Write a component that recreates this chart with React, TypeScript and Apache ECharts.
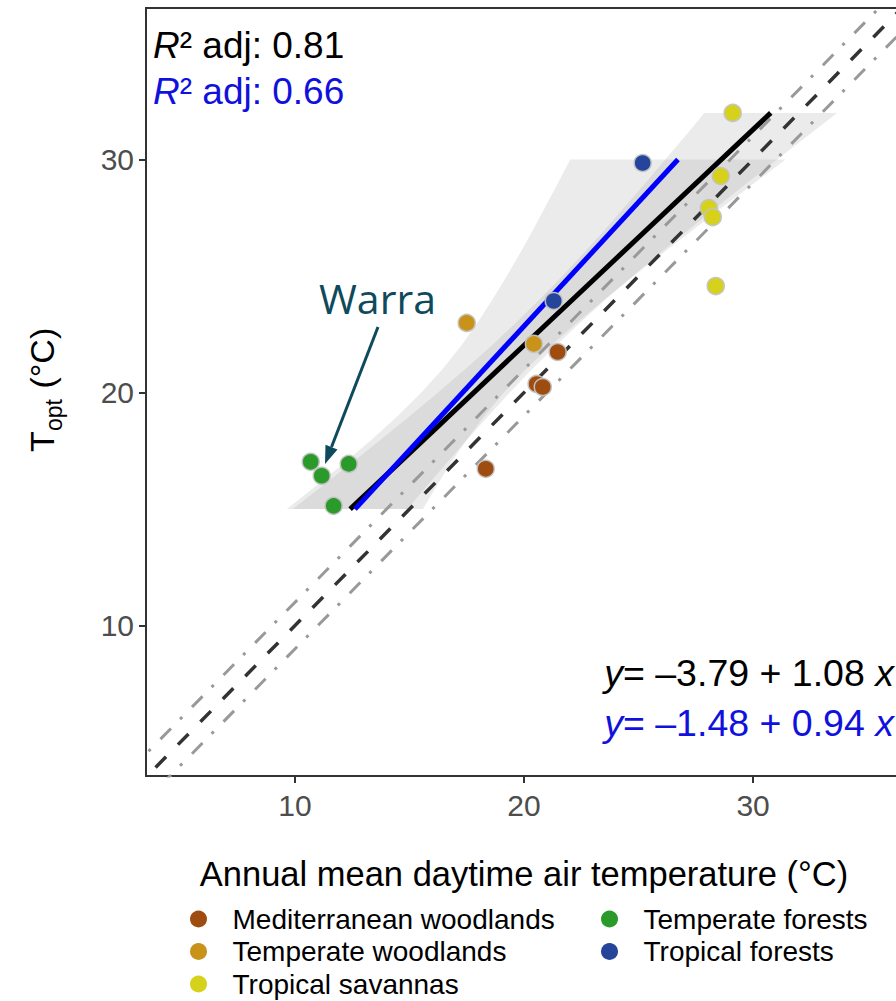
import React, { useEffect, useRef } from "react";
import * as echarts from "echarts";

const FONT = '"Liberation Sans", Arial, sans-serif';

// Biomes and colours
const biomes = [
  "Mediterranean woodlands",
  "Temperate woodlands",
  "Tropical savannas",
  "Temperate forests",
  "Tropical forests",
];
const biomeColors = ["#9e4c10", "#c9931a", "#d6d21c", "#2a9a2a", "#25459a"];

// Site values: annual mean daytime air temperature (x) and Topt (y)
const medX = [21.47, 20.55, 20.82, 18.33];
const medY = [21.74, 20.37, 20.24, 16.73];
const twX = [17.5, 20.43];
const twY = [22.99, 22.09];
const tsX = [29.11, 28.59, 28.07, 28.24, 28.37];
const tsY = [32.0, 29.29, 27.92, 27.53, 24.57];
const tfX = [10.69, 11.17, 12.35, 11.69];
const tfY = [17.03, 16.43, 16.94, 15.14];
const trX = [25.18, 21.3];
const trY = [29.85, 23.93];

// Fitted lines (all sites: black, without savannas: blue)
const fitAllY = [15, 32];
const fitAllX = [12.41, 30.77];
const fitSubY = [15, 30];
const fitSubX = [12.62, 26.72];

// Confidence ribbons: x bounds at each Topt level
const bandAllY = [15, 16, 17, 18, 19, 20, 21, 22, 23, 24, 25, 26, 27, 28, 29, 30, 31, 32];
const bandAllLo = [9.91, 11.21, 12.5, 13.77, 15.02, 16.25, 17.43, 18.57, 19.65, 20.69, 21.68, 22.62, 23.54, 24.43, 25.31, 26.17, 27.03, 27.87];
const bandAllHi = [14.91, 15.77, 16.64, 17.53, 18.44, 19.38, 20.35, 21.37, 22.45, 23.57, 24.74, 25.96, 27.2, 28.47, 29.75, 31.05, 32.36, 33.67];
const bandSubY = [15, 16, 17, 18, 19, 20, 21, 22, 23, 24, 25, 26, 27, 28, 29, 30];
const bandSubLo = [9.65, 10.93, 12.18, 13.37, 14.49, 15.52, 16.44, 17.25, 17.97, 18.63, 19.25, 19.84, 20.4, 20.95, 21.49, 22.02];
const bandSubHi = [15.59, 16.19, 16.82, 17.51, 18.27, 19.12, 20.08, 21.15, 22.31, 23.53, 24.79, 26.08, 27.4, 28.73, 30.07, 31.42];

// Reference lines: 1:1 and ±1 °C
const refX = [0, 40];
const ref11 = [0, 40];
const refUp = [1, 41];
const refLo = [-1, 39];

const tickValues = [10, 20, 30];

const pairs = (xs: number[], ys: number[]) => xs.map((x, i) => [x, ys[i]]);

function bandSeries(name: string, ys: number[], lo: number[], hi: number[]) {
  return {
    type: "custom",
    name,
    silent: true,
    z: 1,
    clip: true,
    data: [[lo[0], ys[0]]],
    renderItem: (_p: any, api: any) => {
      const pts: number[][] = [];
      for (let i = 0; i < ys.length; i++) pts.push(api.coord([lo[i], ys[i]]));
      for (let i = ys.length - 1; i >= 0; i--) pts.push(api.coord([hi[i], ys[i]]));
      return {
        type: "polygon",
        shape: { points: pts },
        style: { fill: "rgba(153,153,153,0.2)" },
      };
    },
  };
}

function refLine(name: string, ys: number[], color: string, width: number, dash: number[]) {
  return {
    type: "line",
    name,
    silent: true,
    z: 2,
    showSymbol: false,
    symbol: "none",
    clip: true,
    data: pairs(refX, ys),
    lineStyle: { color, width, type: dash, cap: "butt" },
  };
}

function fitLine(name: string, xs: number[], ys: number[], color: string) {
  return {
    type: "line",
    name,
    silent: true,
    z: 3,
    showSymbol: false,
    symbol: "none",
    data: pairs(xs, ys),
    lineStyle: { color, width: 5, cap: "butt" },
  };
}

function scatter(i: number, xs: number[], ys: number[]) {
  return {
    type: "scatter",
    name: biomes[i],
    z: 4,
    symbol: "circle",
    symbolSize: 17,
    data: pairs(xs, ys),
    itemStyle: {
      color: biomeColors[i],
      opacity: 1,
      borderColor: "rgba(195,195,195,0.95)",
      borderWidth: 1.5,
    },
  };
}

const legendBase = {
  orient: "vertical",
  itemWidth: 58,
  itemHeight: 17,
  itemGap: 0,
  padding: 0,
  icon: "circle",
  selectedMode: false,
  itemStyle: { borderWidth: 0, opacity: 1 },
  textStyle: { fontSize: 28, lineHeight: 30, color: "#000", fontFamily: FONT },
};

// legend placement: [column left, top] for each biome
const legendPos = [
  [190, 904],
  [190, 936.5],
  [190, 969],
  [601, 904],
  [601, 936.5],
];

const italic = { fontStyle: "italic" };

function label(text: string, x: number, y: number, size: number, color: string, align = "left") {
  return {
    type: "text",
    x,
    y,
    z: 10,
    style: {
      text,
      rich: { i: { ...italic, fontSize: size, fontFamily: FONT, fill: color } },
      fontSize: size,
      fontFamily: FONT,
      fill: color,
      align,
      verticalAlign: "middle",
    },
  };
}

export default function App() {
  const ref = useRef<HTMLDivElement>(null);
  useEffect(() => {
    const chart = echarts.init(ref.current!, null, { renderer: "svg" });
    const option: any = {
      animation: false,
      backgroundColor: "#fff",
      textStyle: { fontFamily: FONT },
      grid: {
        left: 146,
        top: 8,
        right: -6,
        bottom: 225,
        show: true,
        borderColor: "#333",
        borderWidth: 2,
        outerBoundsMode: "none",
        containLabel: false,
      },
      xAxis: {
        type: "value",
        min: 3.5,
        max: 36.5,
        axisLine: { show: true, onZero: false, lineStyle: { color: "#333", width: 2 } },
        axisTick: { show: true, customValues: tickValues, length: 7, lineStyle: { color: "#333", width: 2 } },
        axisLabel: { customValues: tickValues, fontSize: 30, color: "#4d4d4d", margin: 14, fontFamily: FONT },
        splitLine: { show: false },
        name: "Annual mean daytime air temperature (°C)",
        nameLocation: "middle",
        nameGap: 80,
        nameTextStyle: { fontSize: 34.5, color: "#000", fontFamily: FONT },
      },
      yAxis: {
        type: "value",
        min: 3.55,
        max: 36.5,
        axisLine: { show: true, onZero: false, lineStyle: { color: "#333", width: 2 } },
        axisTick: { show: true, customValues: tickValues, length: 7, lineStyle: { color: "#333", width: 2 } },
        axisLabel: { customValues: tickValues, fontSize: 30, color: "#4d4d4d", margin: 12, fontFamily: FONT },
        splitLine: { show: false },
      },
      legend: biomes.map((b, i) => ({
        ...legendBase,
        left: legendPos[i][0],
        top: legendPos[i][1],
        data: [b],
      })),
      series: [
        bandSeries("band all", bandAllY, bandAllLo, bandAllHi),
        bandSeries("band sub", bandSubY, bandSubLo, bandSubHi),
        refLine("1:1 +1", refUp, "#999999", 3, [15, 13, 3, 14]),
        refLine("1:1 -1", refLo, "#999999", 3, [15, 13, 3, 14]),
        refLine("1:1", ref11, "#333333", 3.5, [15, 17]),
        fitLine("fit all", fitAllX, fitAllY, "#000000"),
        fitLine("fit sub", fitSubX, fitSubY, "#0000ff"),
        scatter(0, medX, medY),
        scatter(1, twX, twY),
        scatter(2, tsX, tsY),
        scatter(3, tfX, tfY),
        scatter(4, trX, trY),
      ],
      graphic: [
        label("{i|R}² adj: 0.81", 153, 45, 37, "#000"),
        label("{i|R}² adj: 0.66", 153, 91, 37, "#1111dd"),
        label("{i|y}= –3.79 + 1.08 {i|x}", 894, 673, 37.5, "#000", "right"),
        label("{i|y}= –1.48 + 0.94 {i|x}", 894, 723, 37.5, "#1111dd", "right"),
        {
          type: "text",
          x: 319,
          y: 298,
          z: 10,
          style: {
            text: "Warra",
            fontSize: 41,
            fontFamily: '"Open Sans", "Noto Sans", sans-serif',
            fill: "#0e4a5c",
            verticalAlign: "middle",
          },
        },
        {
          type: "line",
          z: 10,
          shape: { x1: 378, y1: 327, x2: 331.5, y2: 447 },
          style: { stroke: "#0e4a5c", lineWidth: 3 },
        },
        {
          type: "polygon",
          z: 10,
          shape: { points: [[325, 464], [337.5, 449.5], [325.5, 444.8]] },
          style: { fill: "#0e4a5c" },
        },
        {
          type: "group",
          x: 54,
          y: 392,
          rotation: Math.PI / 2,
          children: [
            {
              type: "text",
              x: -60,
              y: -12,
              style: { text: "T", fontSize: 34, fontFamily: FONT, fill: "#000", verticalAlign: "middle" },
            },
            {
              type: "text",
              x: -39,
              y: 0,
              style: { text: "opt", fontSize: 23, fontFamily: FONT, fill: "#000", verticalAlign: "middle" },
            },
            {
              type: "text",
              x: -6,
              y: -12,
              style: { text: " (°C)", fontSize: 34, fontFamily: FONT, fill: "#000", verticalAlign: "middle" },
            },
          ],
        },
      ],
    };
    chart.setOption(option);
    return () => chart.dispose();
  }, []);
  return (
    <div
      ref={ref}
      style={{ position: "absolute", left: 0, top: 0, width: 896, height: 1001 }}
    />
  );
}
